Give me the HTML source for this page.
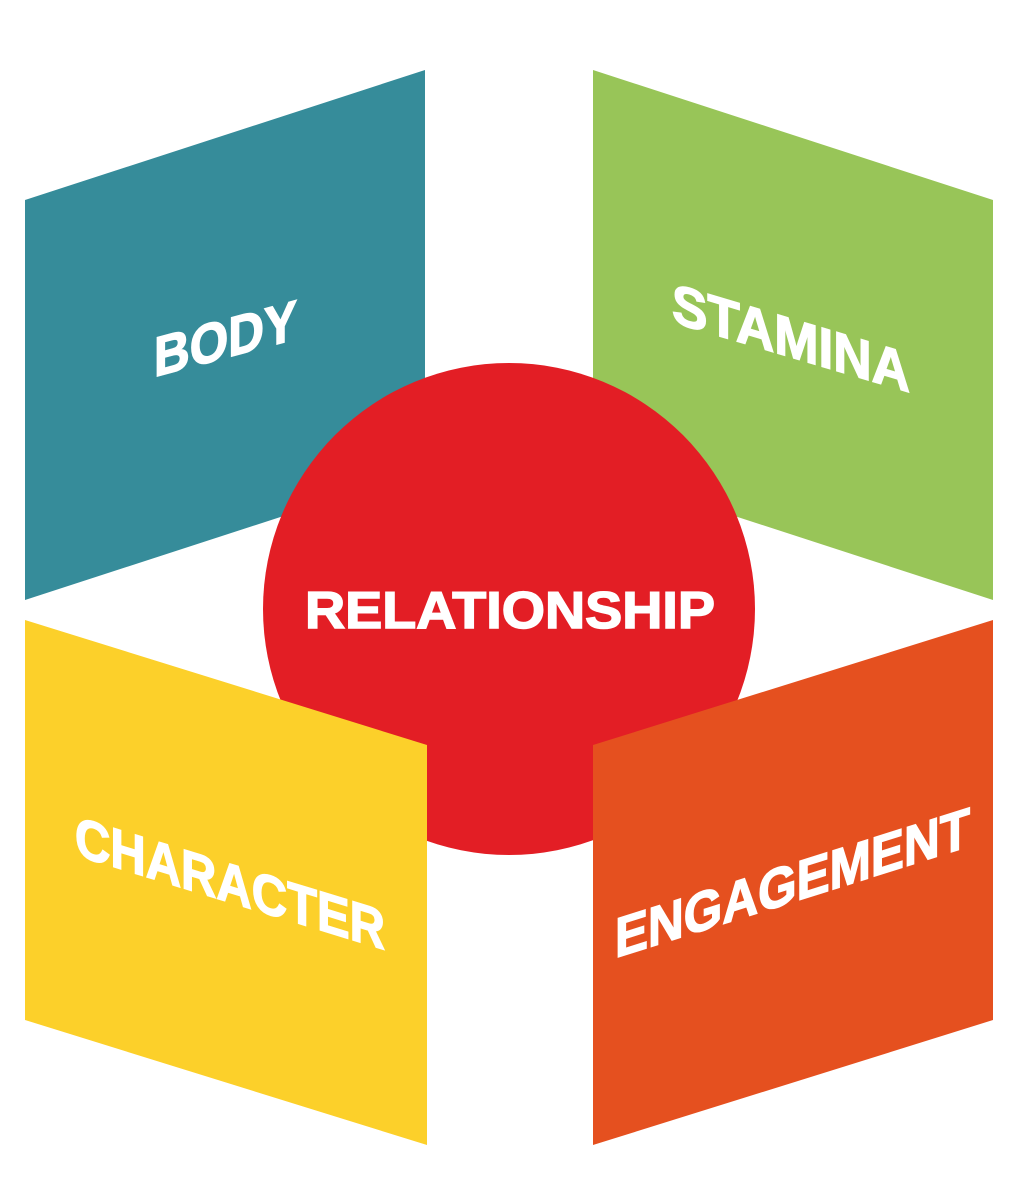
<!DOCTYPE html>
<html><head><meta charset="utf-8"><style>
html,body{margin:0;padding:0;background:#fff;}
svg{display:block}
text{font-family:"Liberation Sans",sans-serif;font-weight:bold;fill:#fff;stroke:#fff;stroke-width:1.5;}
</style></head><body>
<svg width="1033" height="1200" viewBox="0 0 1033 1200" xmlns="http://www.w3.org/2000/svg">
<polygon points="25,200 425,70 425,470 25,600" fill="#368c9a"/>
<polygon points="593,70 993,200 993,600 593,470" fill="#98c558"/>
<circle cx="509" cy="609" r="246" fill="#e31e25"/>
<polygon points="25,620 427,745 427,1145 25,1020" fill="#fcd02a"/>
<polygon points="593,745 993,620 993,1020 593,1145" fill="#e5501f"/>
<g transform="translate(154,377) skewY(-15)"><text x="0" y="0" font-size="56" textLength="143" lengthAdjust="spacingAndGlyphs">BODY</text></g>
<g transform="translate(672,322) skewY(16.5)"><text x="0" y="0" font-size="56" textLength="238" lengthAdjust="spacingAndGlyphs">STAMINA</text></g>
<text x="305" y="628" font-size="52" textLength="410" lengthAdjust="spacingAndGlyphs">RELATIONSHIP</text>
<g transform="translate(75,855) skewY(17)"><text x="0" y="0" font-size="56" textLength="310" lengthAdjust="spacingAndGlyphs">CHARACTER</text></g>
<g transform="translate(615,958) skewY(-17.5)"><text x="0" y="0" font-size="56" textLength="355" lengthAdjust="spacingAndGlyphs">ENGAGEMENT</text></g>
</svg>
</body></html>
